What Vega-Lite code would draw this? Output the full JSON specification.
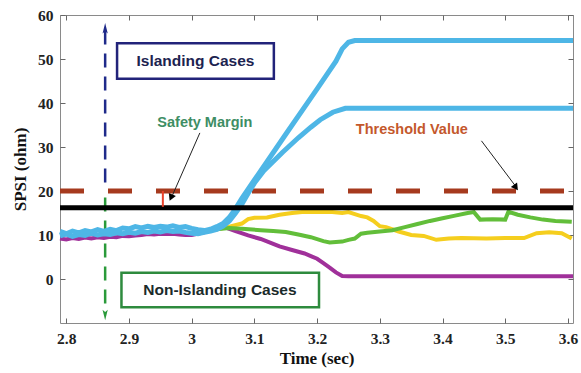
{
  "$schema": "https://vega.github.io/schema/vega-lite/v6.json",
  "width": 513,
  "height": 308,
  "autosize": {"type": "none"},
  "padding": {"left": 60, "top": 15, "right": 8, "bottom": 50},
  "background": "white",
  "config": {"view": {"stroke": "#8a8a8a", "strokeWidth": 1}},
  "datasets": {
    "threshold": [{"t": 2.79, "v": 20}, {"t": 3.608, "v": 20}],
    "margin": [{"t": 2.79, "v": 16.2}, {"t": 3.608, "v": 16.2}],
    "blueArrow": [{"t": 2.862, "v": 56.5}, {"t": 2.862, "v": 21.0}],
    "greenArrow": [{"t": 2.862, "v": 18.5}, {"t": 2.862, "v": -7.5}],
    "blueHead": [{"t": 2.862, "v": 57.0}],
    "greenHead": [{"t": 2.862, "v": -8.2}],
    "redTick": [{"t": 2.954, "v": 20}, {"t": 2.954, "v": 16.4}],
    "safetyArrow": [{"t": 3.013, "v": 33.2}, {"t": 2.968, "v": 18.6}],
    "safetyHead": [{"t": 2.967, "v": 18.5}],
    "threshArrow": [{"t": 3.462, "v": 31.4}, {"t": 3.518, "v": 20.8}],
    "threshHead": [{"t": 3.517, "v": 20.8}],
    "boxIsland": [{"t": 2.881, "t2": 3.131, "v": 53.6, "v2": 45.5}],
    "boxNon": [{"t": 2.888, "t2": 3.203, "v": 1.4, "v2": -6.4}],
    "txtIsland": [{"t": 3.006, "v": 49.5, "label": "Islanding Cases"}],
    "txtNon": [{"t": 3.045, "v": -2.5, "label": "Non-Islanding Cases"}],
    "txtSafety": [{"t": 3.021, "v": 35.5, "label": "Safety Margin"}],
    "txtThresh": [{"t": 3.351, "v": 33.9, "label": "Threshold Value"}],
    "blue1": [
      {"t": 2.79, "v": 10.8}, {"t": 2.80, "v": 10.3}, {"t": 2.81, "v": 10.9}, {"t": 2.82, "v": 10.5},
      {"t": 2.83, "v": 11.0}, {"t": 2.84, "v": 10.7}, {"t": 2.85, "v": 11.2}, {"t": 2.86, "v": 10.8},
      {"t": 2.87, "v": 11.3}, {"t": 2.88, "v": 11.0}, {"t": 2.89, "v": 11.6}, {"t": 2.90, "v": 11.4},
      {"t": 2.91, "v": 11.9}, {"t": 2.92, "v": 11.6}, {"t": 2.93, "v": 12.0}, {"t": 2.94, "v": 11.7},
      {"t": 2.95, "v": 12.0}, {"t": 2.96, "v": 11.8}, {"t": 2.97, "v": 12.1}, {"t": 2.98, "v": 11.7},
      {"t": 2.99, "v": 11.9}, {"t": 3.00, "v": 11.5}, {"t": 3.01, "v": 11.2}, {"t": 3.02, "v": 11.0},
      {"t": 3.03, "v": 11.3}, {"t": 3.04, "v": 11.9}, {"t": 3.05, "v": 12.6}, {"t": 3.06, "v": 14.0},
      {"t": 3.07, "v": 16.0}, {"t": 3.08, "v": 18.3}, {"t": 3.09, "v": 20.4}, {"t": 3.10, "v": 22.5},
      {"t": 3.15, "v": 32.9}, {"t": 3.20, "v": 43.2}, {"t": 3.23, "v": 49.5}, {"t": 3.24, "v": 52.3},
      {"t": 3.25, "v": 53.8}, {"t": 3.26, "v": 54.2}, {"t": 3.608, "v": 54.2}
    ],
    "blue2": [
      {"t": 2.79, "v": 9.8}, {"t": 2.80, "v": 10.2}, {"t": 2.81, "v": 9.7}, {"t": 2.82, "v": 10.1},
      {"t": 2.83, "v": 9.9}, {"t": 2.84, "v": 10.4}, {"t": 2.85, "v": 10.0}, {"t": 2.86, "v": 10.3},
      {"t": 2.87, "v": 10.1}, {"t": 2.88, "v": 10.5}, {"t": 2.89, "v": 10.3}, {"t": 2.90, "v": 10.6},
      {"t": 2.91, "v": 10.4}, {"t": 2.92, "v": 10.8}, {"t": 2.93, "v": 10.6}, {"t": 2.94, "v": 10.9},
      {"t": 2.95, "v": 10.7}, {"t": 2.96, "v": 11.0}, {"t": 2.97, "v": 10.8}, {"t": 2.98, "v": 10.9},
      {"t": 2.99, "v": 10.6}, {"t": 3.00, "v": 10.4}, {"t": 3.01, "v": 10.3}, {"t": 3.02, "v": 10.6},
      {"t": 3.03, "v": 10.9}, {"t": 3.04, "v": 11.3}, {"t": 3.05, "v": 12.0}, {"t": 3.06, "v": 13.2},
      {"t": 3.07, "v": 15.0}, {"t": 3.08, "v": 17.0}, {"t": 3.09, "v": 19.5}, {"t": 3.10, "v": 21.8},
      {"t": 3.115, "v": 24.6}, {"t": 3.13, "v": 26.7}, {"t": 3.145, "v": 28.8}, {"t": 3.17, "v": 32.1},
      {"t": 3.19, "v": 34.5}, {"t": 3.205, "v": 36.2}, {"t": 3.225, "v": 37.9}, {"t": 3.245, "v": 38.8},
      {"t": 3.608, "v": 38.8}
    ],
    "purple": [
      {"t": 2.79, "v": 9.2}, {"t": 2.80, "v": 9.0}, {"t": 2.81, "v": 9.3}, {"t": 2.82, "v": 9.1},
      {"t": 2.83, "v": 9.4}, {"t": 2.84, "v": 9.2}, {"t": 2.85, "v": 9.5}, {"t": 2.86, "v": 9.3},
      {"t": 2.87, "v": 9.6}, {"t": 2.88, "v": 9.5}, {"t": 2.89, "v": 9.8}, {"t": 2.90, "v": 9.7},
      {"t": 2.91, "v": 9.9}, {"t": 2.92, "v": 10.0}, {"t": 2.93, "v": 10.2}, {"t": 2.94, "v": 10.1},
      {"t": 2.95, "v": 10.3}, {"t": 2.96, "v": 10.2}, {"t": 2.97, "v": 10.3}, {"t": 2.98, "v": 10.1},
      {"t": 2.99, "v": 10.0}, {"t": 3.00, "v": 10.0}, {"t": 3.02, "v": 10.6}, {"t": 3.04, "v": 11.6},
      {"t": 3.05, "v": 11.9}, {"t": 3.07, "v": 10.9}, {"t": 3.09, "v": 9.9}, {"t": 3.11, "v": 9.1},
      {"t": 3.13, "v": 8.0}, {"t": 3.14, "v": 7.4}, {"t": 3.16, "v": 6.6}, {"t": 3.18, "v": 5.8},
      {"t": 3.19, "v": 5.2}, {"t": 3.20, "v": 4.6}, {"t": 3.21, "v": 3.6}, {"t": 3.22, "v": 2.6},
      {"t": 3.23, "v": 1.5}, {"t": 3.24, "v": 0.7}, {"t": 3.25, "v": 0.6}, {"t": 3.608, "v": 0.6}
    ],
    "yellow": [
      {"t": 3.03, "v": 11.0}, {"t": 3.05, "v": 11.6}, {"t": 3.06, "v": 11.9}, {"t": 3.08, "v": 12.6},
      {"t": 3.09, "v": 13.6}, {"t": 3.10, "v": 13.9}, {"t": 3.12, "v": 14.0}, {"t": 3.14, "v": 14.6},
      {"t": 3.16, "v": 15.0}, {"t": 3.18, "v": 15.3}, {"t": 3.20, "v": 15.2}, {"t": 3.22, "v": 15.3},
      {"t": 3.24, "v": 15.0}, {"t": 3.25, "v": 15.2}, {"t": 3.27, "v": 14.3}, {"t": 3.28, "v": 14.0},
      {"t": 3.29, "v": 13.2}, {"t": 3.30, "v": 12.0}, {"t": 3.31, "v": 11.8}, {"t": 3.33, "v": 10.8},
      {"t": 3.35, "v": 10.0}, {"t": 3.37, "v": 9.8}, {"t": 3.39, "v": 8.9}, {"t": 3.41, "v": 9.2},
      {"t": 3.43, "v": 9.3}, {"t": 3.47, "v": 9.2}, {"t": 3.50, "v": 9.3}, {"t": 3.53, "v": 9.3},
      {"t": 3.55, "v": 10.4}, {"t": 3.57, "v": 10.6}, {"t": 3.59, "v": 10.4}, {"t": 3.606, "v": 9.2}
    ],
    "green": [
      {"t": 3.04, "v": 11.3}, {"t": 3.06, "v": 11.6}, {"t": 3.08, "v": 11.4}, {"t": 3.11, "v": 11.1},
      {"t": 3.13, "v": 10.9}, {"t": 3.15, "v": 10.7}, {"t": 3.17, "v": 10.1}, {"t": 3.19, "v": 9.5},
      {"t": 3.21, "v": 8.6}, {"t": 3.22, "v": 8.3}, {"t": 3.24, "v": 8.5}, {"t": 3.25, "v": 8.9},
      {"t": 3.26, "v": 9.2}, {"t": 3.27, "v": 10.3}, {"t": 3.28, "v": 10.5}, {"t": 3.30, "v": 10.8},
      {"t": 3.32, "v": 11.1}, {"t": 3.34, "v": 11.8}, {"t": 3.36, "v": 12.5}, {"t": 3.38, "v": 13.2},
      {"t": 3.40, "v": 13.8}, {"t": 3.42, "v": 14.4}, {"t": 3.44, "v": 15.0}, {"t": 3.45, "v": 15.2},
      {"t": 3.46, "v": 13.5}, {"t": 3.48, "v": 13.6}, {"t": 3.50, "v": 13.5}, {"t": 3.505, "v": 15.3},
      {"t": 3.52, "v": 14.6}, {"t": 3.54, "v": 14.0}, {"t": 3.56, "v": 13.5}, {"t": 3.58, "v": 13.2},
      {"t": 3.606, "v": 13.0}
    ]
  },
  "encoding": {
    "x": {"field": "t", "type": "quantitative", "scale": {"domain": [2.79, 3.608], "nice": false, "zero": false}, "axis": null},
    "y": {"field": "v", "type": "quantitative", "scale": {"domain": [-10, 60], "nice": false, "zero": false}, "axis": null}
  },
  "resolve": {"axis": {"x": "independent", "y": "independent"}},
  "layer": [
    {
      "data": {"name": "threshold"},
      "mark": {"type": "line", "color": "#A63A1E", "strokeWidth": 5, "strokeDash": [24, 24]},
      "encoding": {
        "x": {"field": "t", "type": "quantitative", "scale": {"domain": [2.79, 3.608], "nice": false, "zero": false},
          "axis": {"orient": "bottom", "values": [2.8, 2.9, 3.0, 3.1, 3.2, 3.3, 3.4, 3.5, 3.6], "format": "~g", "title": "Time (sec)",
            "domain": false, "grid": false, "ticks": true, "tickSize": -5, "tickColor": "#666", "labelPadding": 13,
            "labelFont": "Liberation Serif", "labelFontWeight": "bold", "labelFontSize": 15.5, "labelColor": "#222",
            "titleFont": "Liberation Serif", "titleFontWeight": "bold", "titleFontSize": 17, "titleColor": "#111", "titlePadding": 4}},
        "y": {"field": "v", "type": "quantitative", "scale": {"domain": [-10, 60], "nice": false, "zero": false},
          "axis": {"orient": "left", "values": [0, 10, 20, 30, 40, 50, 60], "title": "SPSI (ohm)",
            "domain": false, "grid": false, "ticks": true, "tickSize": -5, "tickColor": "#666", "labelPadding": 12,
            "labelFont": "Liberation Serif", "labelFontWeight": "bold", "labelFontSize": 15.5, "labelColor": "#222",
            "titleFont": "Liberation Serif", "titleFontWeight": "bold", "titleFontSize": 17, "titleColor": "#111", "titlePadding": 8}}
      }
    },
    {
      "data": {"name": "margin"},
      "mark": {"type": "line", "color": "#000000", "strokeWidth": 0},
      "encoding": {
        "x": {"field": "t", "type": "quantitative",
          "axis": {"orient": "top", "values": [2.8, 2.9, 3.0, 3.1, 3.2, 3.3, 3.4, 3.5, 3.6], "labels": false, "title": null,
            "domain": false, "grid": false, "ticks": true, "tickSize": -5, "tickColor": "#666"}},
        "y": {"field": "v", "type": "quantitative",
          "axis": {"orient": "right", "values": [0, 10, 20, 30, 40, 50, 60], "labels": false, "title": null,
            "domain": false, "grid": false, "ticks": true, "tickSize": -5, "tickColor": "#666"}}
      }
    },
    {"data": {"name": "blueArrow"}, "mark": {"type": "line", "color": "#1F2A8A", "strokeWidth": 2.5, "strokeDash": [14, 9]}},
    {"data": {"name": "greenArrow"}, "mark": {"type": "line", "color": "#2A9A3A", "strokeWidth": 2.5, "strokeDash": [14, 9]}},
    {"data": {"name": "blueHead"}, "mark": {"type": "point", "shape": "M-0.5,1L0,-1L0.5,1L0,0.6Z", "filled": true, "color": "#1F2A8A", "size": 110, "opacity": 1}},
    {"data": {"name": "greenHead"}, "mark": {"type": "point", "shape": "M-0.5,-1L0,1L0.5,-1L0,-0.6Z", "filled": true, "color": "#2A9A3A", "size": 110, "opacity": 1}},
    {"data": {"name": "purple"}, "mark": {"type": "line", "color": "#A0309A", "strokeWidth": 4, "interpolate": "linear"}},
    {"data": {"name": "yellow"}, "mark": {"type": "line", "color": "#F5CE1E", "strokeWidth": 4}},
    {"data": {"name": "green"}, "mark": {"type": "line", "color": "#62BE3A", "strokeWidth": 4}},
    {"data": {"name": "blue2"}, "mark": {"type": "line", "color": "#4EB6E6", "strokeWidth": 5}},
    {"data": {"name": "blue1"}, "mark": {"type": "line", "color": "#4EB6E6", "strokeWidth": 5}},
    {"data": {"name": "margin"}, "mark": {"type": "line", "color": "#000000", "strokeWidth": 5}},
    {"data": {"name": "redTick"}, "mark": {"type": "line", "color": "#E8412A", "strokeWidth": 2}},
    {"data": {"name": "safetyArrow"}, "mark": {"type": "line", "color": "#222", "strokeWidth": 1}},
    {"data": {"name": "safetyHead"}, "mark": {"type": "point", "shape": "triangle-up", "filled": true, "color": "#000", "size": 60, "angle": 204, "opacity": 1}},
    {"data": {"name": "threshArrow"}, "mark": {"type": "line", "color": "#222", "strokeWidth": 1}},
    {"data": {"name": "threshHead"}, "mark": {"type": "point", "shape": "triangle-up", "filled": true, "color": "#000", "size": 60, "angle": 144, "opacity": 1}},
    {"data": {"name": "boxIsland"}, "mark": {"type": "rect", "fill": "white", "stroke": "#22237A", "strokeWidth": 2.5},
      "encoding": {"x2": {"field": "t2"}, "y2": {"field": "v2"}}},
    {"data": {"name": "boxNon"}, "mark": {"type": "rect", "fill": "white", "stroke": "#2E8B3E", "strokeWidth": 2.5},
      "encoding": {"x2": {"field": "t2"}, "y2": {"field": "v2"}}},
    {"data": {"name": "txtIsland"}, "mark": {"type": "text", "font": "Liberation Sans", "fontWeight": "bold", "fontSize": 15.5, "color": "#1C2350", "align": "center", "baseline": "middle"},
      "encoding": {"text": {"field": "label"}}},
    {"data": {"name": "txtNon"}, "mark": {"type": "text", "font": "Liberation Sans", "fontWeight": "bold", "fontSize": 15.5, "color": "#1A2A2A", "align": "center", "baseline": "middle"},
      "encoding": {"text": {"field": "label"}}},
    {"data": {"name": "txtSafety"}, "mark": {"type": "text", "font": "Liberation Sans", "fontWeight": "bold", "fontSize": 14.5, "color": "#3E8E64", "align": "center", "baseline": "middle"},
      "encoding": {"text": {"field": "label"}}},
    {"data": {"name": "txtThresh"}, "mark": {"type": "text", "font": "Liberation Sans", "fontWeight": "bold", "fontSize": 14.5, "color": "#C4582C", "align": "center", "baseline": "middle"},
      "encoding": {"text": {"field": "label"}}}
  ]
}
